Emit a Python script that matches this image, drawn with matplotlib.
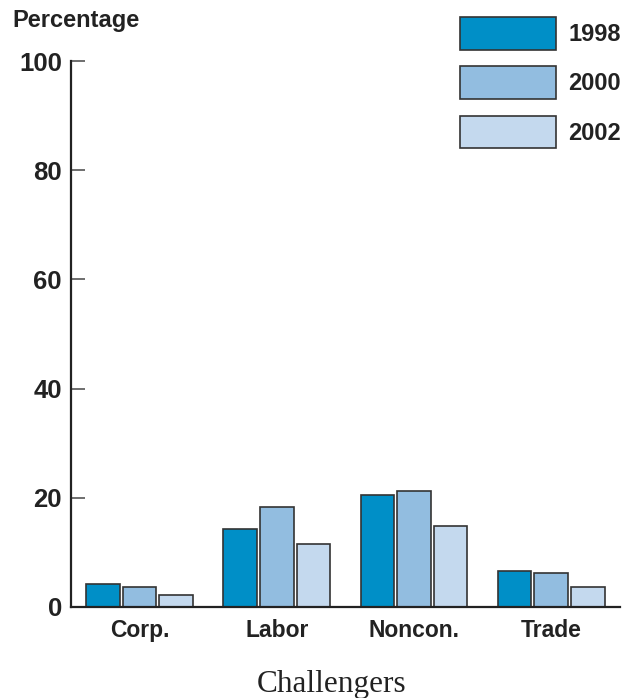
import numpy as np
import matplotlib.pyplot as plt

categories = ['Corp.', 'Labor', 'Noncon.', 'Trade']
years = ['1998', '2000', '2002']
values_1998 = [4.2, 14.3, 20.6, 6.5]
values_2000 = [3.7, 18.3, 21.3, 6.2]
values_2002 = [2.2, 11.6, 14.8, 3.6]
colors = ['#008fc7', '#92bde0', '#c4d9ee']

plt.rcParams['font.family'] = ['Liberation Sans', 'DejaVu Sans']

fig = plt.figure(figsize=(6.37, 6.98), dpi=100)
ax = fig.add_axes([0.1115, 0.1304, 0.8615, 0.7822])

x = np.arange(len(categories))
width = 0.245
pitch = 0.267
series = [values_1998, values_2000, values_2002]
for i, (vals, yr) in enumerate(zip(series, years)):
    ax.bar(x + (i - 1) * pitch, vals, width, color=colors[i], edgecolor='#333333',
           linewidth=1.2, label=yr)

ax.set_xlim(-0.5, 3.5)
ax.set_ylim(0, 100)
ax.set_yticks([0, 20, 40, 60, 80, 100])
ax.set_xticks(x)
ax.set_xticklabels(categories, fontsize=16.5, fontweight='bold', color='#222222')
ax.tick_params(axis='y', direction='in', length=10, width=1.2, color='#555555',
               labelsize=18.5, pad=6.5, labelcolor='#222222')
for lbl in ax.get_yticklabels():
    lbl.set_fontweight('bold')
ax.tick_params(axis='x', length=0, pad=9)

for side in ['top', 'right']:
    ax.spines[side].set_visible(False)
for side in ['left', 'bottom']:
    ax.spines[side].set_linewidth(1.6)
    ax.spines[side].set_color('#222222')

fig.text(12 / 637, 1 - 21 / 698, 'Percentage', fontsize=17, fontweight='bold',
         color='#222222', va='center', ha='left')
fig.text(332 / 637, 1 - 692 / 698, 'Challengers', fontsize=22.5,
         family=['Liberation Serif', 'DejaVu Serif'], color='#222222',
         ha='center', va='baseline')

leg = ax.legend(loc='upper right', bbox_to_anchor=(621 / 637, 1 - 17 / 698),
                bbox_transform=fig.transFigure, frameon=False, fontsize=17,
                handlelength=4.1, handleheight=1.76, handletextpad=0.5,
                labelspacing=0.7, borderpad=0, borderaxespad=0)
for t in leg.get_texts():
    t.set_fontweight('bold')
    t.set_color('#222222')

fig.savefig('out.png', dpi=100)
